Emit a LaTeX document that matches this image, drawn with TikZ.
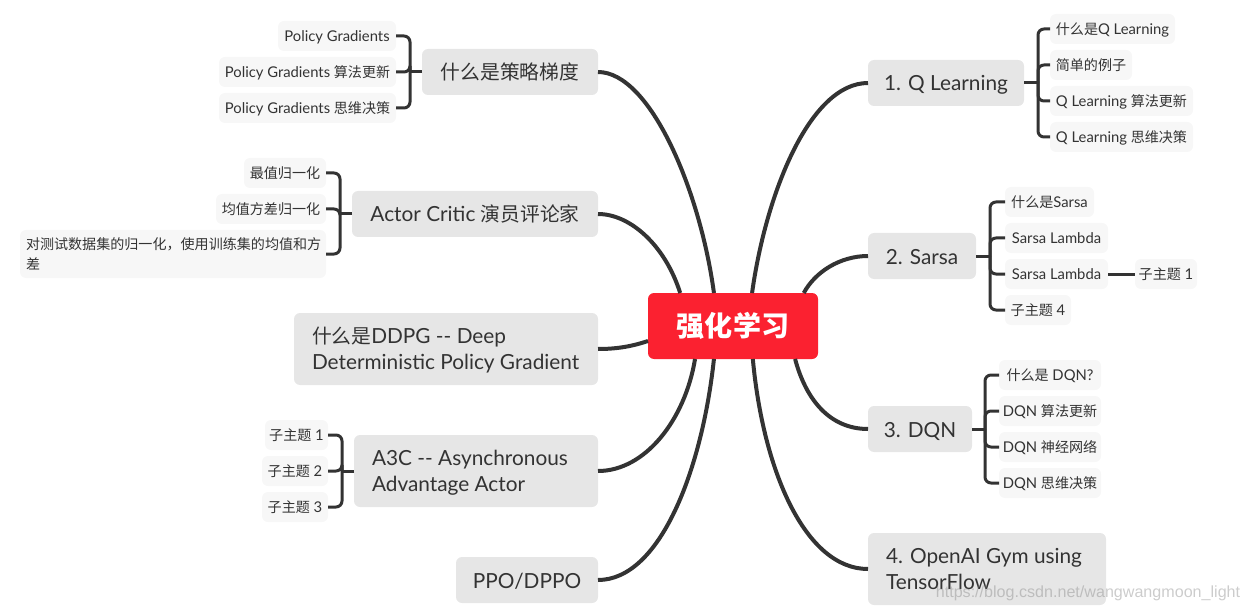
\documentclass[tikz,border=0pt]{standalone}
\usepackage{fontspec}
\setmainfont{Lato}
\newfontfamily\cjk[Scale=0.95]{Noto Sans CJK SC}
\newfontfamily\markfont{Liberation Sans}
\newcommand{\zh}[1]{{\cjk #1}}
\definecolor{rootred}{HTML}{FB2130}
\definecolor{topicgray}{HTML}{E6E6E6}
\definecolor{subgray}{HTML}{F7F7F7}
\definecolor{inkgray}{HTML}{333333}
\tikzset{
  root/.style={fill=rootred, text=white, rounded corners=6pt, outer sep=0pt, inner sep=0pt,
    minimum width=170pt, minimum height=66pt, font=\fontsize{29.5}{32}\selectfont\bfseries},
  widetopic/.style={fill=topicgray, text=inkgray, rounded corners=6pt, outer sep=0pt, inner sep=0pt,
    minimum height=72pt, align=flush left, text height=15pt, text depth=27pt, font=\fontsize{20.8}{26}\selectfont},
  topic/.style={widetopic, minimum height=46pt, text height=19pt, text depth=3pt},
  widesub/.style={fill=subgray, text=inkgray, rounded corners=6pt, outer sep=0pt, inner sep=0pt,
    minimum height=48pt, align=flush left, font=\fontsize{14.8}{20}\selectfont},
  subtopic/.style={widesub, minimum height=30pt, text height=13.5pt, text depth=2.5pt},
  mainline/.style={draw=inkgray, line width=4pt},
  branch/.style={draw=inkgray, line width=3pt},
  arm/.style={branch, rounded corners=6pt}
}
\begin{document}
\begin{tikzpicture}[x=1pt,y=-1pt]
  \useasboundingbox (0,0) rectangle (1249,612);

  % Nodes
  \node[root] (rl) at (733,326) {\zh{强化学习}};

  \node[topic, minimum width=176pt] (pg) at (510,72) {\zh{什么是策略梯度}};
  \node[topic, minimum width=246pt] (ac) at (475,214) {Actor Critic \zh{演员评论家}};
  \node[widetopic, minimum width=304pt, text width=268pt] (ddpg) at (446,349) {\zh{什么是}DDPG -{}- Deep\\Deterministic Policy Gradient};
  \node[widetopic, minimum width=244pt, text width=208pt] (atc) at (476,471) {A3C -{}- Asynchronous\\Advantage Actor};
  \node[topic, minimum width=142pt] (ppo) at (527,580) {PPO/DPPO};
  \node[topic, minimum width=156pt] (ql) at (946,83) {1. Q Learning};
  \node[topic, minimum width=108pt] (sarsa) at (922,256) {2. Sarsa};
  \node[topic, minimum width=104pt] (dqn) at (920,429) {3. DQN};
  \node[widetopic, minimum width=238pt, text width=202pt] (gym) at (987,569) {4. OpenAI Gym using\\TensorFlow};

  \node[subtopic, minimum width=118pt] (pg1) at (337,36) {Policy Gradients};
  \node[subtopic, minimum width=177pt] (pg2) at (307.5,72) {Policy Gradients \zh{算法更新}};
  \node[subtopic, minimum width=177pt] (pg3) at (307.5,108) {Policy Gradients \zh{思维决策}};

  \node[subtopic, minimum width=82pt] (ac1) at (285,173) {\zh{最值归一化}};
  \node[subtopic, minimum width=110pt] (ac2) at (271,209) {\zh{均值方差归一化}};
  \node[widesub, minimum width=306pt, text width=294pt] (ac3) at (173,254) {\zh{对测试数据集的归一化，使用训练集的均值和方}\\\zh{差}};

  \node[subtopic, minimum width=63pt] (atc1) at (296.5,435) {\zh{子主题} 1};
  \node[subtopic, minimum width=66pt] (atc2) at (295,471) {\zh{子主题} 2};
  \node[subtopic, minimum width=66pt] (atc3) at (295,507) {\zh{子主题} 3};

  \node[subtopic, minimum width=125pt] (ql1) at (1112.5,29) {\zh{什么是}Q Learning};
  \node[subtopic, minimum width=82pt] (ql2) at (1091,65) {\zh{简单的例子}};
  \node[subtopic, minimum width=143pt] (ql3) at (1121.5,101) {Q Learning \zh{算法更新}};
  \node[subtopic, minimum width=143pt] (ql4) at (1121.5,137) {Q Learning \zh{思维决策}};

  \node[subtopic, minimum width=89pt] (sa1) at (1049.5,202) {\zh{什么是}Sarsa};
  \node[subtopic, minimum width=103pt] (sa2) at (1056.5,238) {Sarsa Lambda};
  \node[subtopic, minimum width=103pt] (sa3) at (1056.5,274) {Sarsa Lambda};
  \node[subtopic, minimum width=66pt] (sa4) at (1038,310) {\zh{子主题} 4};
  \node[subtopic, minimum width=62pt] (sa5) at (1166,274) {\zh{子主题} 1};

  \node[subtopic, minimum width=102pt] (dq1) at (1050,375) {\zh{什么是} DQN?};
  \node[subtopic, minimum width=102pt] (dq2) at (1050,411) {DQN \zh{算法更新}};
  \node[subtopic, minimum width=102pt] (dq3) at (1050,447) {DQN \zh{神经网络}};
  \node[subtopic, minimum width=102pt] (dq4) at (1050,483) {DQN \zh{思维决策}};

  \node[text=gray, opacity=0.4, inner sep=0pt, font=\markfont\fontsize{16.1}{20}\selectfont] (mark) at (1088,593) {https://blog.csdn.net/wangwangmoon\_light};

  \coordinate (pgjoin) at (410,72);
  \coordinate (acjoin) at (340,214);
  \coordinate (atcjoin) at (342,471);
  \coordinate (qljoin) at (1038,83);
  \coordinate (sajoin) at (990,256);
  \coordinate (dqjoin) at (985,429);

  % Edges
  \draw[mainline] (rl.120) .. controls (700,190) and (650,72) .. (pg.east);
  \draw[mainline] (rl.148) .. controls (665,245) and (630,214) .. (ac.east);
  \draw[mainline] (rl.190.7) .. controls (630,347) and (615,349) .. (ddpg.east);
  \draw[mainline] (rl.221.3) .. controls (685,420) and (645,471) .. (atc.east);
  \draw[mainline] (rl.240) .. controls (702,470) and (660,580) .. (ppo.east);
  \draw[mainline] (rl.60) .. controls (766,193) and (810,83) .. (ql.west);
  \draw[mainline] (rl.25.6) .. controls (815,272) and (840,256) .. (sarsa.west);
  \draw[mainline] (rl.332) .. controls (806,400) and (830,429) .. (dqn.west);
  \draw[mainline] (rl.301.3) .. controls (763,470) and (805,569) .. (gym.west);

  \draw[branch] (pg.west) -- (pgjoin);
  \draw[branch] (ac.west) -- (acjoin);
  \draw[branch] (atc.west) -- (atcjoin);
  \draw[branch] (ql.east) -- (qljoin);
  \draw[branch] (sarsa.east) -- (sajoin);
  \draw[branch] (dqn.east) -- (dqjoin);
  \draw[branch] (sa3.east) -- (sa5.west);

  \foreach \kid in {pg1,pg2,pg3} \draw[arm] (pgjoin) |- (\kid.east);
  \foreach \kid in {ac1,ac2,ac3} \draw[arm] (acjoin) |- (\kid.east);
  \foreach \kid in {atc1,atc2,atc3} \draw[arm] (atcjoin) |- (\kid.east);
  \foreach \kid in {ql1,ql2,ql3,ql4} \draw[arm] (qljoin) |- (\kid.west);
  \foreach \kid in {sa1,sa2,sa3,sa4} \draw[arm] (sajoin) |- (\kid.west);
  \foreach \kid in {dq1,dq2,dq3,dq4} \draw[arm] (dqjoin) |- (\kid.west);
\end{tikzpicture}
\end{document}
